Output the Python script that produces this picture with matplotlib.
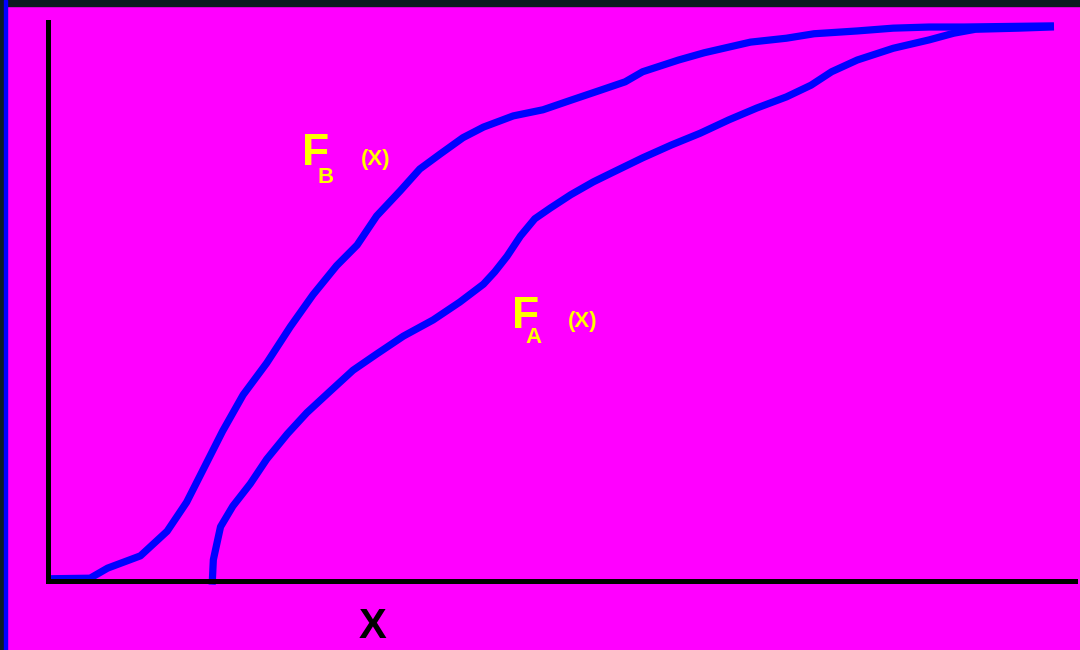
import matplotlib
matplotlib.use("Agg")
import matplotlib.pyplot as plt
from matplotlib.patches import Rectangle

# Curve values (x in 0..100, y is the cumulative share 0..1)
fb_x = [0.2, 4.1, 5.8, 9.0, 11.6, 13.5, 15.1, 17.0, 19.0, 21.3, 23.6, 25.8, 28.1,
        30.1, 32.0, 34.3, 36.2, 38.2, 40.4, 42.4, 45.3, 48.2, 50.9, 53.8, 56.2,
        57.9, 61.4, 63.9, 68.4, 71.9, 74.6, 78.8, 82.3, 85.8, 89.2, 97.6]
fb_y = [0.004, 0.005, 0.023, 0.045, 0.089, 0.141, 0.199, 0.268, 0.333, 0.390,
        0.455, 0.512, 0.564, 0.601, 0.653, 0.698, 0.737, 0.764, 0.793, 0.812,
        0.832, 0.843, 0.860, 0.878, 0.893, 0.911, 0.932, 0.945, 0.964, 0.971,
        0.979, 0.984, 0.989, 0.991, 0.991, 0.993]

fa_x = [16.0, 16.1, 16.8, 18.0, 19.7, 21.3, 23.3, 25.2, 27.5, 29.7, 32.0, 34.6,
        37.5, 40.1, 42.4, 43.5, 44.7, 46.0, 47.4, 48.9, 50.9, 53.1, 55.1, 57.9,
        60.7, 63.5, 66.3, 69.0, 71.9, 74.3, 76.3, 78.8, 82.3, 85.8, 88.2, 90.3,
        94.5, 97.6]
fa_y = [0.0, 0.038, 0.097, 0.134, 0.174, 0.218, 0.263, 0.301, 0.340, 0.377,
        0.406, 0.438, 0.467, 0.499, 0.531, 0.553, 0.581, 0.617, 0.648, 0.667,
        0.691, 0.714, 0.732, 0.757, 0.780, 0.801, 0.825, 0.846, 0.866, 0.887,
        0.911, 0.932, 0.953, 0.968, 0.980, 0.987, 0.989, 0.991]

magenta = '#ff00ff'
blue = '#0000ff'
yellow = '#ffff00'

plt.rcParams['font.family'] = ['Liberation Sans', 'DejaVu Sans']

W, H = 1080, 650
fig = plt.figure(figsize=(W / 100, H / 100), dpi=100, facecolor=magenta)

# dark frame bits at top and left edge of the slide
fig.patches.append(Rectangle((0, 1 - 6 / H), 1, 6 / H, transform=fig.transFigure,
                             color='#0b1a22', zorder=0))
fig.patches.append(Rectangle((0, 0), 4 / W, 1, transform=fig.transFigure,
                             color='#0b1a22', zorder=0))
fig.patches.append(Rectangle((4 / W, 0), 2.5 / W, 1, transform=fig.transFigure,
                             color=blue, zorder=0))

left, right, top, bottom = 48, 1075, 22, 581
ax = fig.add_axes([left / W, (H - bottom) / H, (right - left) / W, (bottom - top) / H])
ax.set_facecolor('none')
ax.set_xlim(0, 100)
ax.set_ylim(0, 1)

for side in ['top', 'right']:
    ax.spines[side].set_visible(False)
for side in ['left', 'bottom']:
    ax.spines[side].set_color('black')
    ax.spines[side].set_linewidth(3.6)
ax.set_xticks([])
ax.set_yticks([])

ax.plot(fb_x, fb_y, color=blue, linewidth=5.2, solid_joinstyle='round', clip_on=False)
ax.plot(fa_x, fa_y, color=blue, linewidth=5.2, solid_joinstyle='round', clip_on=False)

# curve labels
ax.text(24.7, 0.744, 'F', color=yellow, fontsize=32, fontweight='bold', va='baseline')
ax.text(26.2, 0.712, 'B', color=yellow, fontsize=16, fontweight='bold', va='baseline')
ax.text(30.5, 0.745, '(X)', color=yellow, fontsize=16, fontweight='bold', va='baseline')

ax.text(45.2, 0.453, 'F', color=yellow, fontsize=32, fontweight='bold', va='baseline')
ax.text(46.5, 0.426, 'A', color=yellow, fontsize=16, fontweight='bold', va='baseline')
ax.text(50.6, 0.455, '(X)', color=yellow, fontsize=16, fontweight='bold', va='baseline')

ax.text(30.2, -0.102, 'X', color='black', fontsize=30, fontweight='bold', va='baseline')

fig.savefig('out.png', dpi=100, facecolor=magenta)
